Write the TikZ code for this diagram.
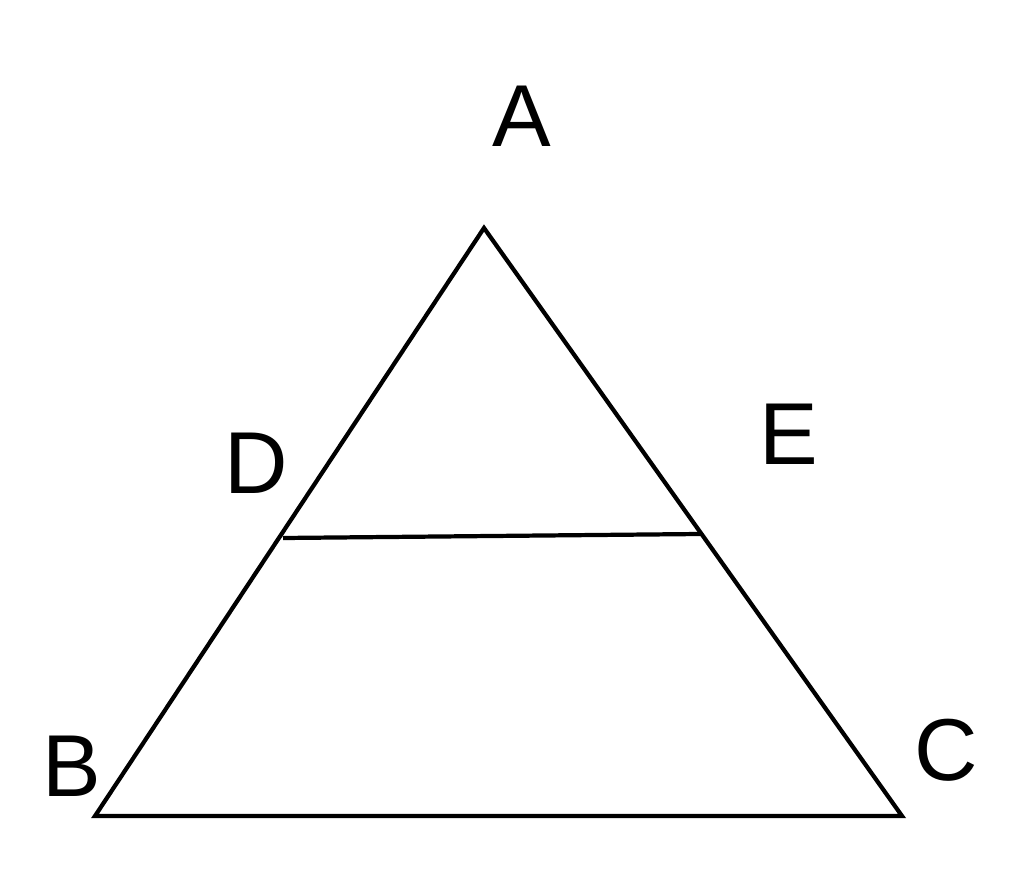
\documentclass[tikz,border=0pt]{standalone}
\usepackage{fontspec}
\setmainfont{Liberation Sans}
\begin{document}
\begin{tikzpicture}[x=0.01cm,y=-0.01cm,
  edge/.style={line width=1.2pt, line join=miter},
  lbl/.style={font=\fontsize{25}{30}\selectfont, inner sep=0pt}]
\useasboundingbox (0,0) rectangle (1024,885);
\coordinate (A) at (484,228);
\coordinate (B) at (95,816);
\coordinate (C) at (902,816);
\coordinate (D) at (283,538);
\coordinate (E) at (700,534);
\draw[edge] (A) -- (B) -- (C) -- cycle;
\draw[edge] (D) -- (E);
\node[lbl] (lA) at (522,116) {A};
\node[lbl] (lD) at (256,463) {D};
\node[lbl] (lE) at (789,434) {E};
\node[lbl] (lB) at (72,766) {B};
\node[lbl] (lC) at (946,750) {C};
\end{tikzpicture}
\end{document}
